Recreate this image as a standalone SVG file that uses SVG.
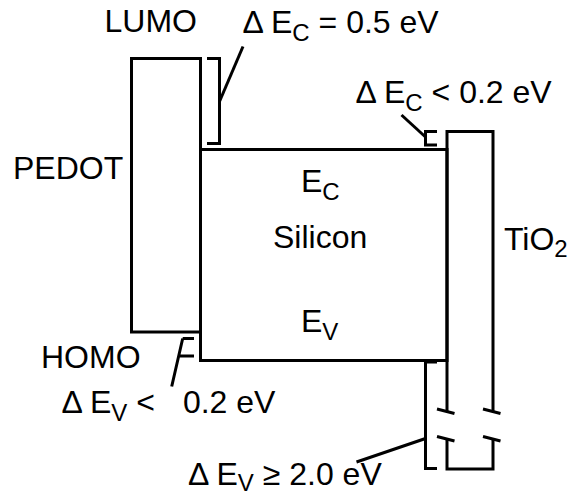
<svg xmlns="http://www.w3.org/2000/svg" width="571" height="497" viewBox="0 0 571 497">
<style>
.ln{fill:none;stroke:#000;stroke-width:3;stroke-linecap:butt;stroke-linejoin:miter}
.t{font-family:"Liberation Sans",Arial,sans-serif;font-size:32px;fill:#000}
.s{font-size:24px}
</style>
<rect width="571" height="497" fill="#fff"/>
<g id="pedot">
<rect class="ln" x="131.5" y="58.5" width="69" height="273.5"/>
<text class="t" x="13" y="179">PEDOT</text>
<text class="t" x="104.5" y="32">LUMO</text>
<text class="t" x="41" y="368">HOMO</text>
</g>
<g id="silicon">
<rect class="ln" x="200.5" y="149.5" width="246.5" height="211"/>
<text class="t" x="301" y="192">E<tspan class="s" dy="8">C</tspan></text>
<text class="t" x="273" y="248">Silicon</text>
<text class="t" x="301" y="332">E<tspan class="s" dy="8">V</tspan></text>
</g>
<g id="tio2">
<path class="ln" d="M447,412 V131.5 H493 V411.5"/>
<path class="ln" d="M447,438.5 V469 H493 V440"/>
<path class="ln" d="M437,409 L454.5,413.5 M483,409 L500.5,413.5 M437,436.5 L454.5,441 M483,436.5 L500.5,441"/>
<text class="t" x="504" y="250">TiO<tspan class="s" dy="7">2</tspan></text>
</g>
<g id="connectors">
<path class="ln" d="M207,58.5 H219.5 V143.5 H207"/>
<path class="ln" d="M219.5,101.5 L243,46.5"/>
<path class="ln" d="M437,131.5 H425.5 V145 H437"/>
<path class="ln" d="M425.5,137 L401.5,115"/>
<path class="ln" d="M194,338.5 H182.7 M194,356 H178.8 M182.7,338.5 L171.7,386.5"/>
<path class="ln" d="M437,362 H425.5 V468.5 H437"/>
<path class="ln" d="M425.5,438.5 L356.5,462"/>
</g>
<g id="labels">
<text class="t" x="242.5" y="33">Δ E<tspan class="s" dy="8">C</tspan><tspan dy="-8"> = 0.5 eV</tspan></text>
<text class="t" x="355.5" y="103">Δ E<tspan class="s" dy="8">C</tspan><tspan dy="-8"> &lt; 0.2 eV</tspan></text>
<text class="t" x="61.5" y="413">Δ E<tspan class="s" dy="8">V</tspan><tspan dy="-8"> &lt;</tspan><tspan x="174"> 0.2 eV</tspan></text>
<text class="t" x="188" y="485">Δ E<tspan class="s" dy="6">V</tspan><tspan dy="-6"> ≥ 2.0 eV</tspan></text>
</g>
</svg>
